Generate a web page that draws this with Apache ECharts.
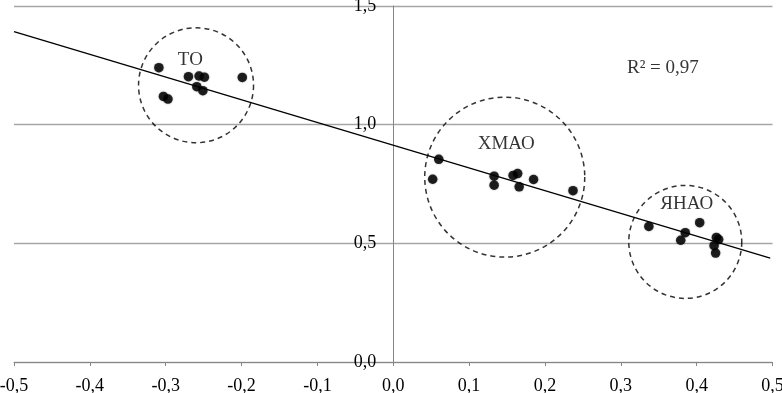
<!DOCTYPE html>
<html><head><meta charset="utf-8">
<script src="https://cdn.jsdelivr.net/npm/echarts@6/dist/echarts.min.js"></script>
<style>html,body{margin:0;padding:0;background:#fff}#c{width:782px;height:393px}</style>
</head><body><div id="c"></div>
<script>
// Scatter points (x, y)
const pointsX = [-0.309, -0.270, -0.256, -0.249, -0.259, -0.251, -0.303, -0.297, -0.199,
                 0.060, 0.052, 0.133, 0.133, 0.158, 0.164, 0.166, 0.185, 0.237,
                 0.337, 0.404, 0.385, 0.379, 0.426, 0.429, 0.423, 0.425];
const pointsY = [1.240, 1.202, 1.205, 1.200, 1.160, 1.143, 1.119, 1.108, 1.199,
                 0.854, 0.770, 0.783, 0.745, 0.786, 0.794, 0.738, 0.769, 0.722,
                 0.571, 0.587, 0.545, 0.513, 0.525, 0.516, 0.490, 0.459];
// Linear trend line endpoints
const trendX = [-0.5, 0.497];
const trendY = [1.392, 0.438];
// Group circles (centre x, centre y)
const groupNames = ['ТО', 'ХМАО', 'ЯНАО'];
const circleX = [-0.260, 0.147, 0.385];
const circleY = [1.166, 0.779, 0.506];
const labelX = [-0.2675, 0.149, 0.387];
const labelY = [1.272, 0.918, 0.6675];
const r2Text = 'R² = 0,97';
const r2X = 0.3555, r2Y = 1.238;
const xTicks = { min: -0.5, max: 0.5, step: 0.1 };
const yTicks = { min: 0, max: 1.5, step: 0.5 };

const fmt = v => (Math.abs(v) < 1e-9 ? 0 : v).toFixed(1).replace('.', ',');
const FONT = 'Liberation Serif';
const chart = echarts.init(document.getElementById('c'), null, { renderer: 'canvas' });
const circleSizes = [115, 160, 113];
const GL = 14, GR = 9.5;
const plotW = 782 - GL - GR;

chart.setOption({
  animation: false,
  backgroundColor: '#fff',
  grid: { left: GL, right: GR, top: 6, bottom: 31, containLabel: false, outerBoundsMode: 'none' },
  xAxis: {
    type: 'value', min: xTicks.min, max: xTicks.max, interval: xTicks.step,
    axisLine: { show: true, onZero: false, lineStyle: { color: '#868686', width: 1 } },
    axisTick: { show: true, inside: false, length: 4, lineStyle: { color: '#868686' } },
    splitLine: { show: false },
    axisLabel: { formatter: fmt, fontFamily: FONT, fontSize: 18, color: '#000', margin: 15 }
  },
  yAxis: {
    type: 'value', min: yTicks.min, max: yTicks.max, interval: yTicks.step,
    position: 'left', offset: -plotW / 2,
    axisLine: { show: true, onZero: false, lineStyle: { color: '#868686', width: 1 } },
    axisTick: { show: false },
    splitLine: { show: true, lineStyle: { color: '#a6a6a6', width: 1.3 } },
    axisLabel: { formatter: fmt, fontFamily: FONT, fontSize: 18, color: '#000', margin: 17 }
  },
  series: [
    {
      type: 'scatter', silent: true, z: 2,
      data: circleX.map((x, i) => ({ value: [x, circleY[i]], symbolSize: circleSizes[i] })),
      itemStyle: { color: 'rgba(0,0,0,0)', borderColor: '#000', borderWidth: 1.5, borderType: [5, 4] }
    },
    {
      type: 'line', silent: true, z: 3, showSymbol: false, symbol: 'none',
      data: trendX.map((x, i) => [x, trendY[i]]),
      lineStyle: { color: '#000', width: 1.3 }
    },
    {
      type: 'scatter', silent: true, z: 4, symbolSize: 9.5,
      data: pointsX.map((x, i) => [x, pointsY[i]]),
      itemStyle: { color: '#000', shadowBlur: 1.5, shadowColor: 'rgba(0,0,0,0.6)' }
    },
    {
      type: 'scatter', silent: true, z: 5, symbolSize: 0,
      data: labelX.map((x, i) => ({ value: [x, labelY[i]], name: groupNames[i] }))
        .concat([{ value: [r2X, r2Y], name: r2Text }]),
      label: { show: true, position: 'inside', formatter: p => p.name,
               fontFamily: FONT, fontSize: 19, color: '#000' }
    }
  ]
});
</script></body></html>
